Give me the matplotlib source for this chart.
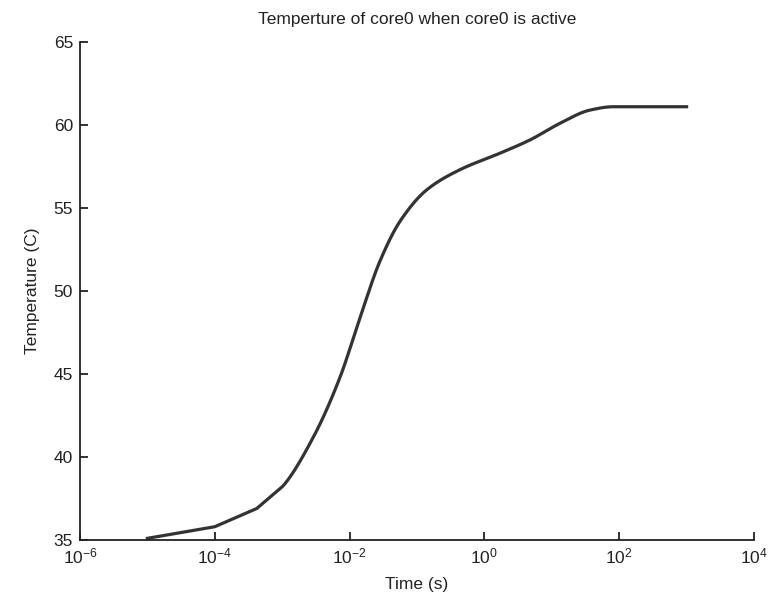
import numpy as np
import matplotlib
matplotlib.use("Agg")
import matplotlib.pyplot as plt
from matplotlib.ticker import NullLocator

plt.rcParams['font.family'] = ['Liberation Sans', 'DejaVu Sans']
plt.rcParams['mathtext.fontset'] = 'custom'
plt.rcParams['mathtext.rm'] = 'Liberation Sans'
plt.rcParams['mathtext.default'] = 'regular'

# Data
time_s = [1e-5, 1e-4, 4.2e-4, 1.0e-3, 2.9e-3, 7.2e-3, 0.0143, 0.0282, 0.056,
          0.14, 0.43, 1.7, 4.75, 13.2, 37, 81, 1000]
temp_c = [35.1, 35.8, 36.9, 38.2, 41.2, 44.8, 48.4, 51.8, 54.2,
          56.1, 57.3, 58.3, 59.1, 60.1, 60.9, 61.1, 61.1]
title = "Temperture of core0 when core0 is active"
xlabel = "Time (s)"
ylabel = "Temperature (C)"
yticks = [35, 40, 45, 50, 55, 60, 65]
xticks = [1e-6, 1e-4, 1e-2, 1e0, 1e2, 1e4]

fig = plt.figure(figsize=(7.74, 5.98), dpi=100)
ax = fig.add_axes([80/774, 58/598, 674/774, 498/598])

lx = np.log10(time_s)
ly = np.array(temp_c)

def pchip(x, y, xn):
    h = np.diff(x)
    d = np.diff(y) / h
    m = np.zeros_like(y)
    for k in range(1, len(y) - 1):
        if d[k-1] * d[k] > 0:
            w1 = 2*h[k] + h[k-1]
            w2 = h[k] + 2*h[k-1]
            m[k] = (w1 + w2) / (w1/d[k-1] + w2/d[k])
    m[0] = d[0]; m[-1] = d[-1]
    out = np.empty_like(xn)
    idx = np.clip(np.searchsorted(x, xn) - 1, 0, len(x) - 2)
    for i, (xi, k) in enumerate(zip(xn, idx)):
        t = (xi - x[k]) / h[k]
        h00 = 2*t**3 - 3*t**2 + 1
        h10 = t**3 - 2*t**2 + t
        h01 = -2*t**3 + 3*t**2
        h11 = t**3 - t**2
        out[i] = h00*y[k] + h10*h[k]*m[k] + h01*y[k+1] + h11*h[k]*m[k+1]
    return out

# straight segments at the sparse low end, smooth curve afterwards
n_lin = 4
xs = np.linspace(lx[n_lin-1], lx[-1], 800)
ys = pchip(lx, ly, xs)
xall = np.concatenate([lx[:n_lin-1], xs])
yall = np.concatenate([ly[:n_lin-1], ys])

ax.plot(10**xall, yall, color='#333333', lw=2.3, solid_joinstyle='round')

ax.set_xscale('log')
ax.set_xlim(1e-6, 1e4)
ax.set_ylim(35, 65)
ax.set_xticks(xticks)
ax.xaxis.set_minor_locator(NullLocator())
ax.set_yticks(yticks)

for s in ['top', 'right']:
    ax.spines[s].set_visible(False)
for s in ['left', 'bottom']:
    ax.spines[s].set_linewidth(1.3)
    ax.spines[s].set_color('#222222')

ax.tick_params(direction='in', length=6, width=1.3, colors='#222222',
               labelsize=12.5, pad=5)
ax.set_title(title, fontsize=12.5, color='#222222', pad=13)
ax.set_xlabel(xlabel, fontsize=12.5, color='#222222', labelpad=7)
ax.set_ylabel(ylabel, fontsize=12.5, color='#222222', labelpad=10)

fig.savefig('out.png', dpi=100)
